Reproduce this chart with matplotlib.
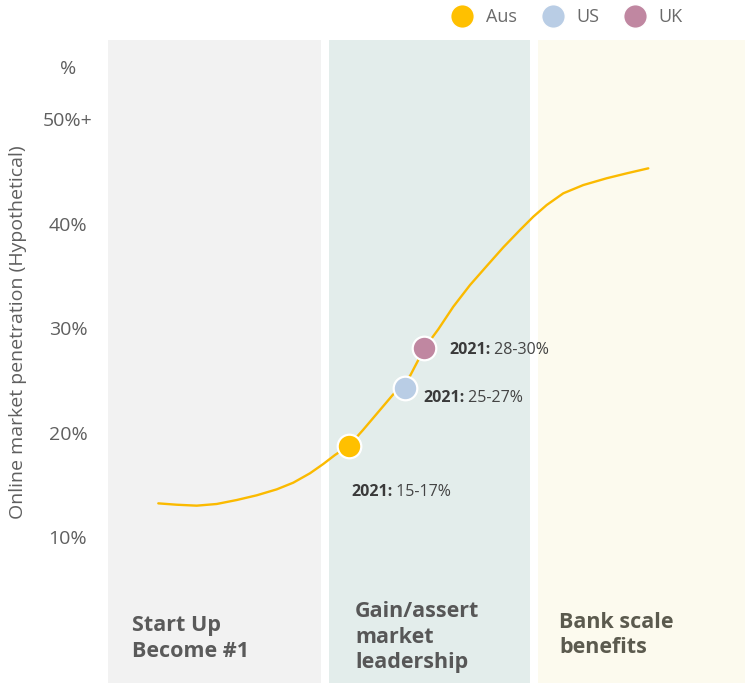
import matplotlib
matplotlib.use("Agg")
import matplotlib.pyplot as plt
from matplotlib.lines import Line2D

plt.rcParams["font.family"] = ["Open Sans", "DejaVu Sans"]

# ---------------- data ----------------
# x is an arbitrary "time / maturity" scale, y is market penetration in %
curve_x = [50.3, 68.7, 88.7, 108.7, 128.7, 148.7, 168.7, 185.3, 202, 215.3, 227,
           241, 255, 284.7, 302, 310.3, 316.3, 330.3, 345.3, 362, 378.7, 395.3,
           412, 425.3, 438.7, 455.3, 475.3, 498.7, 518.7, 540.3]
curve_y = [13.22, 13.09, 13.0, 13.16, 13.54, 13.99, 14.56, 15.2, 16.1, 16.99, 17.85,
           18.74, 20.24, 23.59, 25.41, 26.94, 28.06, 29.88, 32.04, 34.11, 35.93, 37.72,
           39.38, 40.65, 41.77, 42.89, 43.68, 44.33, 44.8, 45.28]

countries = ["Aus", "US", "UK"]
country_x = [241, 297.3, 316.3]
country_y = [18.74, 24.23, 28.06]
country_colors = ["#FFC000", "#B9CDE5", "#C087A1"]
country_labels = ["15-17%", "25-27%", "28-30%"]
label_x = [243, 315, 341]
label_y = [14.3, 23.35, 27.9]

yticks = [10, 20, 30, 40, 50, 55]
ytick_labels = ["10%", "20%", "30%", "40%", "50%+", "%"]

stages = ["Start Up\nBecome #1", "Gain/assert\nmarket\nleadership", "Bank scale\nbenefits"]
stage_spans = [(0, 213), (221, 422), (430, 637)]
stage_colors = ["#F2F2F2", "#E3EDEB", "#FCFAEE"]
stage_text_colors = ["#5A5A5A", "#575757", "#5B5A4E"]
stage_text_x = [24, 247, 451]
stage_text_y = [0.3, 0.4, 0.6]

# ---------------- figure ----------------
fig = plt.figure(figsize=(7.45, 6.83), dpi=100)
ax = fig.add_axes([108 / 745, 0, 637 / 745, 643 / 683])
ax.set_xlim(0, 637)
ax.set_ylim(-3.97, 57.56)

for (x0, x1), c in zip(stage_spans, stage_colors):
    ax.axvspan(x0, x1, color=c, lw=0, zorder=0)

for name, tx, ty, tc in zip(stages, stage_text_x, stage_text_y, stage_text_colors):
    ax.text(tx, ty, name, ha="left", va="center", fontsize=15.5, fontweight="bold",
            color=tc, linespacing=1.28)

ax.plot(curve_x, curve_y, color="#FBBA00", lw=1.7, zorder=2,
        solid_capstyle="round", solid_joinstyle="round")

for x, y, c in zip(country_x, country_y, country_colors):
    ax.plot(x, y, "o", ms=17, color=c, mec="white", mew=1.6, zorder=3)

for lx, ly, lab in zip(label_x, label_y, country_labels):
    t1 = ax.text(lx, ly, "2021:", ha="left", va="center", fontsize=11.5,
                 fontweight="bold", color="#3A3A3A")
    ax.annotate(" " + lab, xy=(1, 0), xycoords=t1, ha="left", va="bottom",
                fontsize=11.5, color="#444444")

ax.set_xticks([])
ax.set_yticks(yticks)
ax.set_yticklabels(ytick_labels)
ax.tick_params(axis="y", length=0, pad=28.8, labelsize=14, labelcolor="#5F5F5F")
for lbl in ax.get_yticklabels():
    lbl.set_horizontalalignment("center")
for s in ax.spines.values():
    s.set_visible(False)

fig.text(18 / 745, 1 - 332 / 683, "Online market penetration (Hypothetical)",
         rotation=90, ha="center", va="center", fontsize=14, color="#5F5F5F")

handles = [Line2D([], [], marker="o", ls="", ms=17, color=c, mec="white")
           for c in country_colors]
fig.legend(handles, countries, loc="center right", bbox_to_anchor=(690 / 745, 1 - 17 / 683),
           ncol=3, frameon=False, fontsize=13, labelcolor="#6A6A6A",
           handletextpad=0.3, columnspacing=1.0, borderaxespad=0)

fig.savefig("out.png", dpi=100, facecolor="white")
